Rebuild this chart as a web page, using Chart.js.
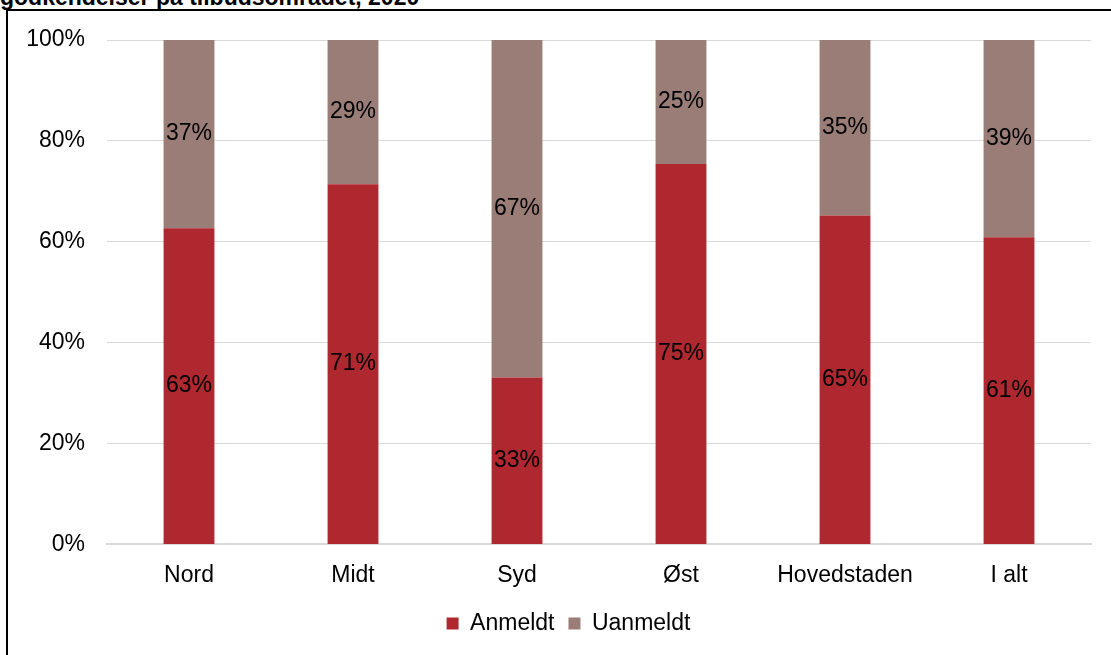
<!DOCTYPE html>
<html>
<head>
<meta charset="utf-8">
<script src="https://cdn.jsdelivr.net/npm/chart.js@4"></script>
<style>
  html, body { margin: 0; padding: 0; background: #fff; overflow: hidden; }
  #wrap { position: relative; width: 1111px; height: 655px; overflow: hidden; }
  #title { position: absolute; left: 0; top: -16px; font: bold 23px "Liberation Sans", Arial, sans-serif; color: #000; white-space: nowrap; }
  #frame { position: absolute; left: 6px; top: 9px; width: 1200px; height: 700px; border-left: 2px solid #000; border-top: 2px solid #000; box-sizing: border-box; }
  #box { position: absolute; left: 0; top: 0; width: 1111px; height: 655px; }
</style>
</head>
<body>
<div id="wrap">
  <div id="title">godkendelser på tilbudsområdet, 2020</div>
  <div id="frame"></div>
  <div id="box"><canvas id="myChart"></canvas></div>
</div>
<script>
var categories = ["Nord", "Midt", "Syd", "Øst", "Hovedstaden", "I alt"];
var anmeldt = [62.7, 71.4, 33.1, 75.4, 65.2, 60.9];
var uanmeldt = [37.3, 28.6, 66.9, 24.6, 34.8, 39.1];
var yTicks = [0, 20, 40, 60, 80, 100];

var fontSize = 23;
var labelFont = fontSize + 'px "Liberation Sans", Arial, sans-serif';

// draw the percentage in the middle of each segment
var segmentLabels = {
  id: "segmentLabels",
  afterDatasetsDraw: function (chart) {
    var ctx = chart.ctx;
    ctx.save();
    ctx.font = labelFont;
    ctx.fillStyle = "#000";
    ctx.textAlign = "center";
    ctx.textBaseline = "middle";
    chart.data.datasets.forEach(function (ds, i) {
      var meta = chart.getDatasetMeta(i);
      meta.data.forEach(function (bar, j) {
        var mid = (bar.y + bar.base) / 2;
        ctx.fillText(Math.round(ds.data[j]) + "%", bar.x, mid);
      });
    });
    ctx.restore();
  }
};

// nudge the legend a bit to the right, like the original
var legendShift = {
  id: "legendShift",
  afterLayout: function (chart) {
    chart.legend.left += 18;
    chart.legend.right += 18;
  }
};

var ctx = document.getElementById("myChart").getContext("2d");
var myChart = new Chart(ctx, {
  type: "bar",
  data: {
    labels: categories,
    datasets: [
      { label: "Anmeldt", data: anmeldt, backgroundColor: "#B0282F", categoryPercentage: 1, barPercentage: 0.31 },
      { label: "Uanmeldt", data: uanmeldt, backgroundColor: "#9B7D78", categoryPercentage: 1, barPercentage: 0.31 }
    ]
  },
  options: {
    responsive: true,
    maintainAspectRatio: false,
    animation: false,
    layout: { padding: { left: 10, right: 20, top: 40, bottom: 10 } },
    plugins: {
      legend: {
        position: "bottom",
        labels: {
          font: { family: "Liberation Sans", size: fontSize },
          color: "#000",
          boxWidth: 12,
          boxHeight: 12,
          padding: 14
        }
      },
      tooltip: { enabled: false }
    },
    scales: {
      x: {
        stacked: true,
        grid: { display: false },
        border: { display: true, color: "#d9d9d9", width: 2 },
        ticks: { font: { family: "Liberation Sans", size: fontSize }, color: "#000", padding: 9 }
      },
      y: {
        stacked: true,
        min: 0,
        max: 100,
        afterFit: function (scale) { scale.width = 97; },
        afterBuildTicks: function (scale) {
          scale.ticks = yTicks.map(function (v) { return { value: v }; });
        },
        grid: { color: "#d9d9d9", drawTicks: false },
        border: { display: false },
        ticks: {
          font: { family: "Liberation Sans", size: fontSize },
          color: "#000",
          padding: 22,
          callback: function (v) { return v + "%"; }
        }
      }
    }
  },
  plugins: [segmentLabels, legendShift]
});
</script>
</body>
</html>
